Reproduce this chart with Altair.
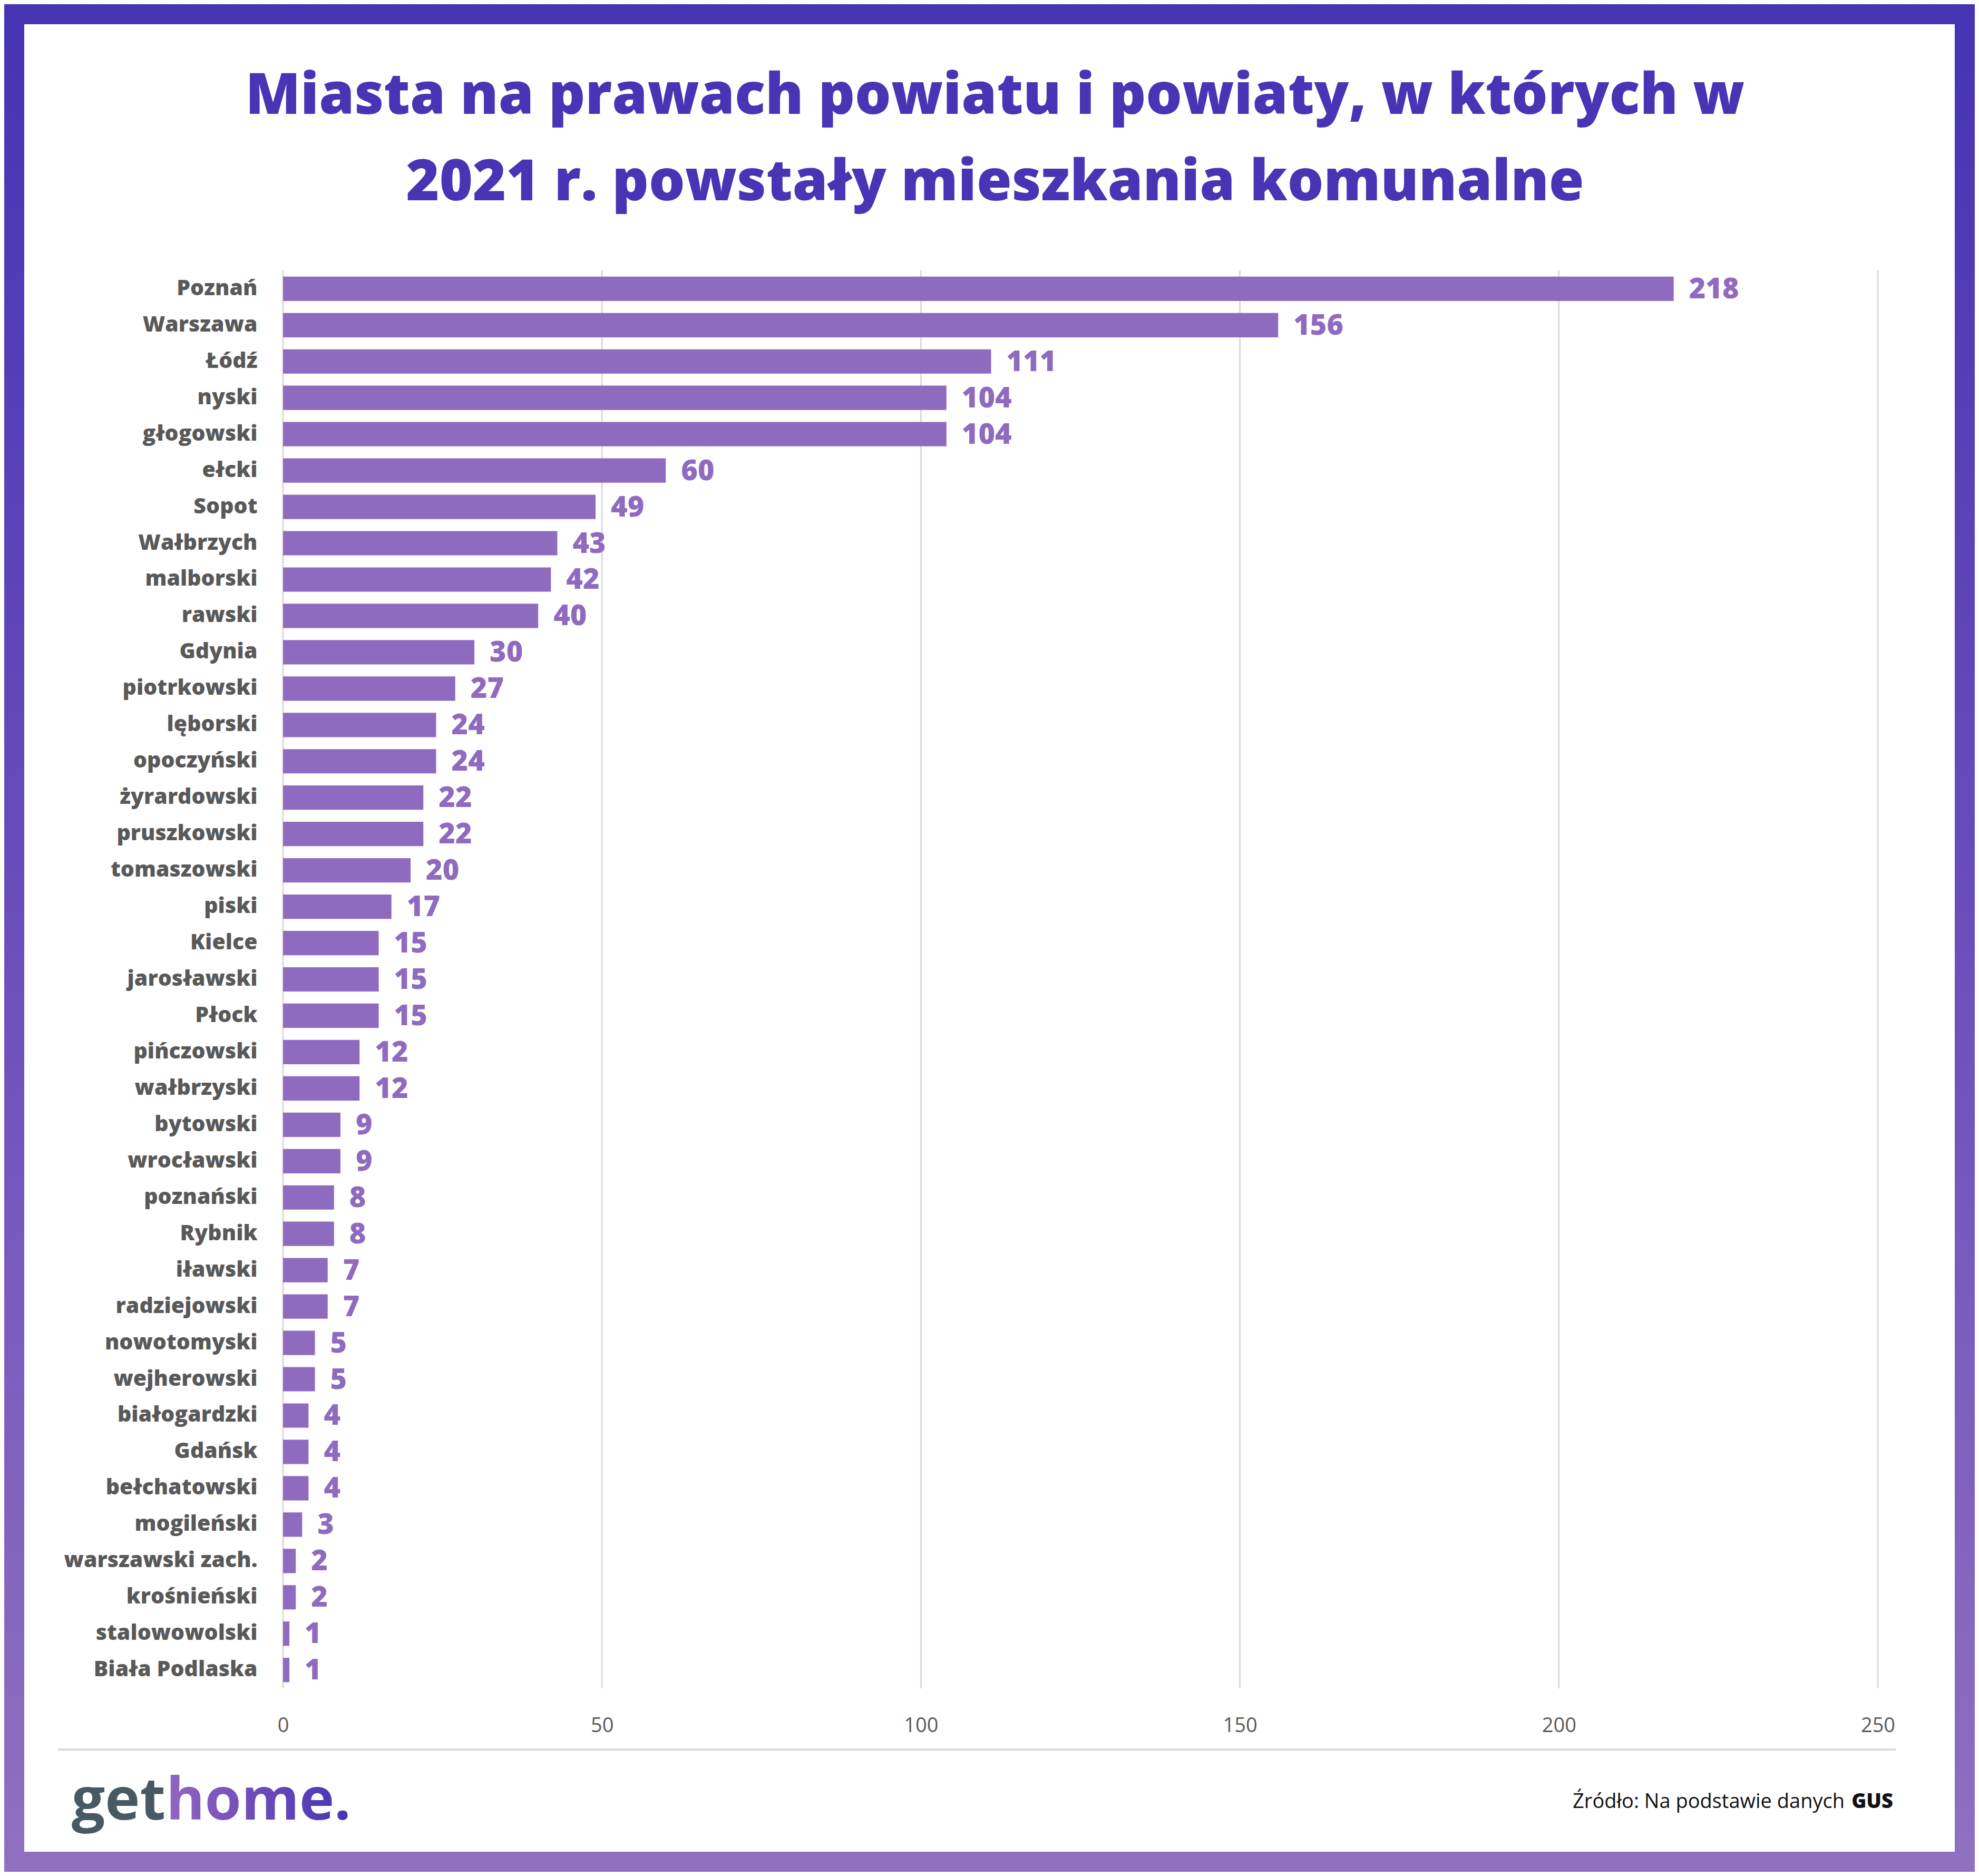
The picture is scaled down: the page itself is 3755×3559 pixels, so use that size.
import altair as alt
import pandas as pd

# ---------------- data ----------------
names = ["Poznań", "Warszawa", "Łódź", "nyski", "głogowski", "ełcki", "Sopot",
         "Wałbrzych", "malborski", "rawski", "Gdynia", "piotrkowski", "lęborski",
         "opoczyński", "żyrardowski", "pruszkowski", "tomaszowski", "piski",
         "Kielce", "jarosławski", "Płock", "pińczowski", "wałbrzyski", "bytowski",
         "wrocławski", "poznański", "Rybnik", "iławski", "radziejowski",
         "nowotomyski", "wejherowski", "białogardzki", "Gdańsk", "bełchatowski",
         "mogileński", "warszawski zach.", "krośnieński", "stalowowolski",
         "Biała Podlaska"]
values = [218, 156, 111, 104, 104, 60, 49, 43, 42, 40, 30, 27, 24, 24, 22, 22,
          20, 17, 15, 15, 15, 12, 12, 9, 9, 8, 8, 7, 7, 5, 5, 4, 4, 4, 3, 2, 2, 1, 1]
x_ticks = [0, 50, 100, 150, 200, 250]

title_lines = ["Miasta na prawach powiatu i powiaty, w których w",
               "2021 r. powstały mieszkania komunalne"]
source_text = "Źródło: Na podstawie danych"
source_bold = "GUS"
logo_dark = "get"
logo_color = "home."

df = pd.DataFrame({"name": names, "value": values})
ticks_df = pd.DataFrame({"tick": x_ticks})

# ---------------- layout (plot area at page x=537, y=513) ----------------
W, H = 3026, 2690
BAR = "#8F6BC0"
INDIGO = "#4834B4"
GREY = "#595959"

x_scale = alt.Scale(domain=[0, 250], nice=False, zero=True)


def one(text):
    return alt.Chart(pd.DataFrame({"t": [text]}))


border_grad = alt.Gradient(
    gradient="linear",
    stops=[alt.GradientStop(color="#4533B3", offset=0),
           alt.GradientStop(color="#6A4FBB", offset=0.5),
           alt.GradientStop(color="#9070C0", offset=1)],
    x1=0, x2=0, y1=0, y2=1)

border = one("b").mark_rect(fill=border_grad).encode(
    x=alt.value(-545), x2=alt.value(3230), y=alt.value(-521), y2=alt.value(3060))
panel = one("p").mark_rect(fill="white").encode(
    x=alt.value(-491), x2=alt.value(3172), y=alt.value(-467), y2=alt.value(3000))

grid = alt.Chart(ticks_df).mark_rule(color="#d9d9d9", strokeWidth=3).encode(
    x=alt.X("tick:Q", scale=x_scale))

y_enc = alt.Y("name:N", sort=names,
              scale=alt.Scale(paddingInner=0.33, paddingOuter=0.17),
              axis=alt.Axis(title=None, domain=False, ticks=False, tickSize=0,
                            labelPadding=49, labelFontSize=41, labelLimit=0,
                            labelFont="Open Sans", labelFontWeight=800,
                            labelColor=GREY, zindex=1, grid=False))
x_enc = alt.X("value:Q", scale=x_scale,
              axis=alt.Axis(title=None, values=x_ticks, domain=False,
                            ticks=False, tickSize=0, grid=False,
                            labelFlush=False,
                            labelPadding=52, labelFontSize=38,
                            labelFont="Liberation Sans Narrow, Open Sans",
                            labelColor=GREY, zindex=1))

bars = alt.Chart(df).mark_bar(color=BAR).encode(x=x_enc, y=y_enc)
labels = alt.Chart(df).mark_text(
    align="left", baseline="middle", dx=29, dy=2, fontSize=54,
    font="Open Sans", fontWeight=800, color=BAR).encode(
    x=alt.X("value:Q", scale=x_scale), y=alt.Y("name:N", sort=names),
    text="value:Q")

title1 = one(title_lines[0]).mark_text(
    align="center", baseline="alphabetic", fontSize=108, font="Open Sans",
    fontWeight=800, color=INDIGO).encode(
    x=alt.value(1351), y=alt.value(-297), text="t:N")
title2 = one(title_lines[1]).mark_text(
    align="center", baseline="alphabetic", fontSize=108, font="Open Sans",
    fontWeight=800, color=INDIGO).encode(
    x=alt.value(1351), y=alt.value(-133), text="t:N")

sep = one("s").mark_rule(color="#d9d9d9", strokeWidth=4).encode(
    x=alt.value(-427), x2=alt.value(3060), y=alt.value(2806))

logo_grad = alt.Gradient(
    gradient="linear",
    stops=[alt.GradientStop(color="#9366C1", offset=0),
           alt.GradientStop(color="#6A4BBA", offset=0.5),
           alt.GradientStop(color="#4733B5", offset=1)],
    x1=0, x2=1, y1=0, y2=0)

logo1 = one(logo_dark).mark_text(
    align="left", baseline="alphabetic", fontSize=112, font="Open Sans",
    fontWeight=700, color="#475A63").encode(
    x=alt.value(-401), y=alt.value(2939), text="t:N")
logo2 = one(logo_color).mark_text(
    align="left", baseline="alphabetic", fontSize=112, font="Open Sans",
    fontWeight=700, fill=logo_grad).encode(
    x=alt.value(-222), y=alt.value(2939), text="t:N")

src1 = one(source_text).mark_text(
    align="right", baseline="alphabetic", fontSize=38, font="Open Sans",
    fontWeight=400, color="#111111").encode(
    x=alt.value(2963), y=alt.value(2917), text="t:N")
src2 = one(source_bold).mark_text(
    align="right", baseline="alphabetic", fontSize=38, font="Open Sans",
    fontWeight=800, color="#111111").encode(
    x=alt.value(3055), y=alt.value(2917), text="t:N")

chart = alt.layer(
    border, panel, grid, bars, labels, title1, title2, sep,
    logo1, logo2, src1, src2
).properties(
    width=W, height=H,
    autosize=alt.AutoSizeParams(type="none"),
    padding={"left": 529, "top": 505, "right": 184, "bottom": 348},
    background="white",
).configure_view(strokeWidth=0)

chart.save("out.html", embed_options={"renderer": "svg", "actions": False})
